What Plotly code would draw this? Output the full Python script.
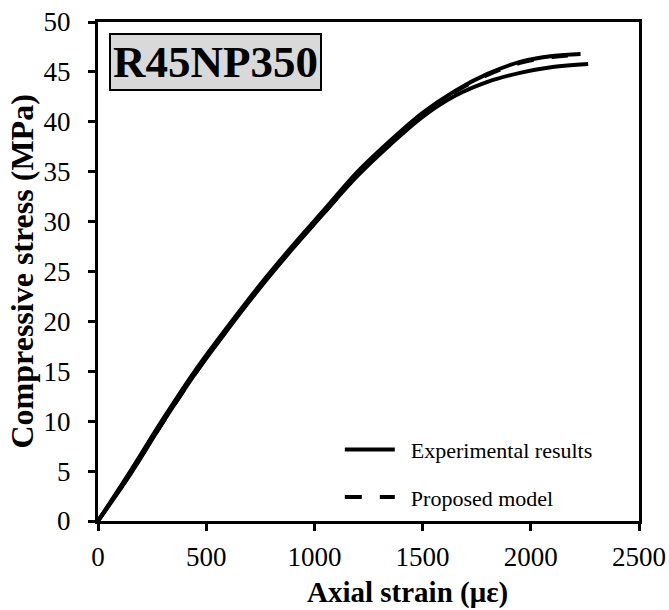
import plotly.graph_objects as go

# Experimental curve 1 (upper)
strain_exp1 = [0, 150, 300, 450, 600, 750, 900, 1050, 1200, 1350, 1500, 1650, 1800, 1950, 2100, 2230]
stress_exp1 = [0, 5.0, 10.2, 15.1, 19.5, 23.7, 27.6, 31.3, 35.0, 38.1, 40.9, 43.1, 44.8, 46.0, 46.6, 46.8]

# Experimental curve 2 (lower)
strain_exp2 = [0, 150, 300, 450, 600, 750, 900, 1050, 1200, 1350, 1500, 1650, 1800, 1950, 2100, 2265]
stress_exp2 = [0, 4.7, 9.9, 14.8, 19.2, 23.4, 27.3, 31.0, 34.6, 37.7, 40.5, 42.6, 44.0, 44.9, 45.5, 45.8]

# Proposed model
strain_model = [0, 150, 300, 450, 600, 750, 900, 1050, 1200, 1350, 1500, 1650, 1800, 1950, 2100, 2220]
stress_model = [0, 4.8, 9.9, 14.8, 19.3, 23.5, 27.4, 31.0, 34.7, 37.9, 40.7, 43.0, 44.7, 45.9, 46.5, 46.7]

x_ticks = [0, 500, 1000, 1500, 2000, 2500]
y_ticks = [0, 5, 10, 15, 20, 25, 30, 35, 40, 45, 50]

FONT = "Liberation Serif"
NB = "\u00a0"

fig = go.Figure()
fig.add_trace(go.Scatter(x=strain_exp1, y=stress_exp1, mode="lines",
                         line=dict(color="black", width=4, shape="spline"),
                         name=NB * 2 + "Experimental results", legendgroup="a"))
fig.add_trace(go.Scatter(x=strain_exp2, y=stress_exp2, mode="lines",
                         line=dict(color="black", width=4, shape="spline"),
                         name="Experimental results", legendgroup="a", showlegend=False))
fig.add_trace(go.Scatter(x=strain_model, y=stress_model, mode="lines",
                         line=dict(color="black", width=4, dash="17px,18px", shape="spline"),
                         name=NB * 2 + "Proposed model", legendgroup="b"))

axis_common = dict(showgrid=False, zeroline=False, showline=True, linecolor="black",
                   linewidth=3, mirror=True, ticks="outside", ticklen=7, tickwidth=3,
                   tickcolor="black", automargin=False,
                   tickfont=dict(family=FONT, size=27, color="black"))

fig.update_xaxes(range=[0, 2500], tickvals=x_ticks, ticklabelstandoff=3, **axis_common)
fig.update_yaxes(range=[0, 50], tickvals=y_ticks, ticklabelstandoff=12, **axis_common)

fig.update_layout(
    width=669, height=610,
    margin=dict(l=98, r=30, t=22, b=89),
    plot_bgcolor="white", paper_bgcolor="white",
    showlegend=True,
    legend=dict(x=0.447, y=0.185, xanchor="left", yanchor="top",
                font=dict(family=FONT, size=22, color="black"),
                bgcolor="rgba(0,0,0,0)", tracegroupgap=16, itemwidth=50),
    annotations=[
        dict(text="<b>R45NP350</b>", xref="paper", yref="paper", x=0.0203, y=0.978,
             xanchor="left", yanchor="top", showarrow=False,
             font=dict(family=FONT, size=45, color="black"),
             bgcolor="#d9d9d9", bordercolor="black", borderwidth=2, borderpad=2),
        dict(text="<b>Axial strain (με)</b>", xref="paper", yref="paper",
             x=(407 - 98) / 541, y=-(592 - 521) / 499, xanchor="center", yanchor="middle",
             showarrow=False, font=dict(family=FONT, size=29, color="black")),
        dict(text="<b>Compressive stress (MPa)</b>", xref="paper", yref="paper",
             x=(21 - 98) / 541, y=0.5, xanchor="center", yanchor="middle", textangle=-90,
             showarrow=False, font=dict(family=FONT, size=32, color="black")),
    ],
)

fig.write_html("out.html")
